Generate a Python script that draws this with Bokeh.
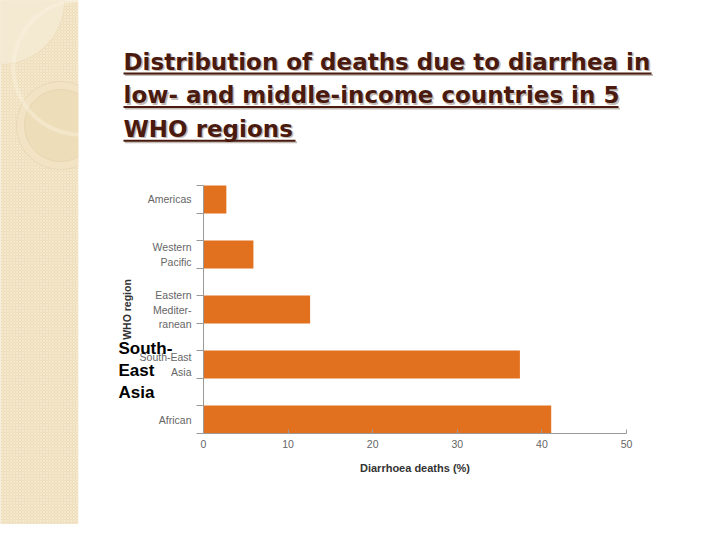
import numpy as np
from bokeh.plotting import figure
from bokeh.models import (Range1d, FixedTicker, Label, BoxAnnotation,
                          PolyAnnotation, ColumnDataSource, LinearAxis)
from bokeh.embed import file_html
from bokeh.resources import INLINE

# ---------------- data ----------------
regions = ["African", "South-East Asia", "Eastern Mediterranean",
           "Western Pacific", "Americas"]
region_tick_labels = ["African", "South-East\nAsia", "Eastern\nMediter-\nranean",
                      "Western\nPacific", "Americas"]
deaths_pct = [41.1, 37.4, 12.6, 5.9, 2.7]
x_ticks = [0, 10, 20, 30, 40, 50]
title_lines = ["Distribution of deaths due to diarrhea in",
               "low- and middle-income countries in 5",
               "WHO regions"]
overlay_lines = ["South-", "East", "Asia"]

# ---------------- layout geometry (page px) ----------------
W, H = 704, 524
CL, CR, CT, CB = 203, 626, 185, 433      # chart plotting area
bar_h = 0.509
half = bar_h / 2
pos = list(range(len(regions)))
x_lo, x_hi = x_ticks[0], x_ticks[-1]
y_lo, y_hi = pos[0] - half, pos[-1] + half
kx = (x_hi - x_lo) / (CR - CL)
ky = (y_hi - y_lo) / (CB - CT)

# frame covers the whole canvas; chart axes are placed at fixed locations
p = figure(width=W, height=H, output_backend="svg", toolbar_location=None,
           title=None, x_axis_location=None, y_axis_location=None,
           x_range=Range1d(x_lo - CL * kx, x_hi + (W - CR) * kx),
           y_range=Range1d(y_lo - (H - CB) * ky, y_hi + CT * ky),
           min_border=0)
p.background_fill_color = "white"
p.border_fill_color = "white"
p.outline_line_color = None
p.xgrid.visible = False
p.ygrid.visible = False

def sx(X):
    return X

def sy(Y):
    return H - Y

SCR = dict(left_units="screen", right_units="screen",
           top_units="screen", bottom_units="screen")

# ---------------- slide decorations ----------------
strip_right = 78
p.add_layout(BoxAnnotation(left=sx(-5), right=sx(strip_right), top=sy(-5), bottom=sy(560),
                           fill_color="#EEDDB9", fill_alpha=1, line_color=None,
                           hatch_pattern="diagonal_cross", hatch_color="#F6EBD3",
                           hatch_scale=3, hatch_weight=1, hatch_alpha=0.8,
                           level="underlay", **SCR))

def circle_poly(cx, cy, r, **kw):
    t = np.linspace(0, 2 * np.pi, 160)
    return PolyAnnotation(xs=[sx(v) for v in cx + r * np.cos(t)],
                          ys=[sy(v) for v in cy + r * np.sin(t)],
                          xs_units="screen", ys_units="screen",
                          level="underlay", **kw)

p.add_layout(circle_poly(0, 0, 64, fill_color="#F4E9D1", fill_alpha=1,
                         line_color="#E2D0A8", line_width=1))
p.add_layout(circle_poly(60, 125, 44, fill_color="#F1E3C4", fill_alpha=1,
                         line_color="#D6C096", line_width=1))
p.add_layout(circle_poly(60, 125, 36, fill_color="#EEDDB9", fill_alpha=1,
                         line_color="#D6C096", line_width=1))
p.add_layout(circle_poly(80, 67, 67, fill_color=None, fill_alpha=0,
                         line_color="#FFFBF0", line_width=4))
p.add_layout(BoxAnnotation(left=sx(strip_right), right=sx(760), top=sy(-20), bottom=sy(560),
                           fill_color="white", fill_alpha=1, line_color=None,
                           level="underlay", **SCR))

# ---------------- bars ----------------
src = ColumnDataSource(dict(pos=pos, pct=deaths_pct, region=regions))
p.hbar(y="pos", left=0, right="pct", height=bar_h, source=src,
       fill_color="#E1701F", line_color=None)

# ---------------- axes ----------------
tick_font = "Liberation Sans"
edges = sorted([q - half for q in pos] + [q + half for q in pos])
yax = LinearAxis(fixed_location=x_lo, bounds=(y_lo, y_hi))
yax.ticker = FixedTicker(ticks=pos, minor_ticks=edges)
yax.major_label_overrides = {q: lbl for q, lbl in zip(pos, region_tick_labels)}
yax.major_tick_out = 0
yax.major_tick_in = 0
yax.minor_tick_out = 7
yax.minor_tick_in = 0
yax.minor_tick_line_color = "#9A9A9A"
yax.axis_line_color = "#9A9A9A"
yax.major_label_standoff = 5
yax.major_label_text_font = tick_font
yax.major_label_text_font_size = "10.5px"
yax.major_label_text_color = "#666666"
yax.axis_label = "WHO region"
yax.axis_label_text_font = tick_font
yax.axis_label_text_font_style = "bold"
yax.axis_label_text_font_size = "10.5px"
yax.axis_label_text_color = "#333333"
yax.axis_label_standoff = 4
p.add_layout(yax, "left")

xax = LinearAxis(fixed_location=y_lo, bounds=(x_lo, x_hi))
xax.ticker = FixedTicker(ticks=x_ticks, minor_ticks=[])
xax.major_tick_in = 4
xax.major_tick_out = 0
xax.major_tick_line_color = "#9A9A9A"
xax.axis_line_color = "#9A9A9A"
xax.major_label_standoff = 6
xax.major_label_text_font = tick_font
xax.major_label_text_font_size = "10.5px"
xax.major_label_text_color = "#666666"
xax.axis_label = "Diarrhoea deaths (%)"
xax.axis_label_text_font = tick_font
xax.axis_label_text_font_style = "bold"
xax.axis_label_text_font_size = "11px"
xax.axis_label_text_color = "#333333"
xax.axis_label_standoff = 11
p.add_layout(xax, "below")

# ---------------- slide title ----------------
title_x = 123
baselines = [69.5, 103.0, 136.7]      # visual baselines (page px)
label_shift = 8.5                     # Label alphabetic-baseline correction
underline_right = [651, 618, 295]
for txt, by, ur in zip(title_lines, baselines, underline_right):
    for d, col in ((1.5, "#C4BCB7"), (0, "#4A1A0F")):
        p.add_layout(BoxAnnotation(left=sx(title_x + d), right=sx(ur + d),
                                   top=sy(by + 2.5 + d), bottom=sy(by + 4.5 + d),
                                   fill_color=col, fill_alpha=1, line_color=None, **SCR))
        p.add_layout(Label(x=sx(title_x + d), y=sy(by - label_shift + d),
                           x_units="screen", y_units="screen",
                           text=txt, text_baseline="alphabetic", text_align="left",
                           text_font="DejaVu Sans", text_font_style="bold",
                           text_font_size="23px", text_color=col))

# ---------------- stray overlaid text ----------------
for txt, by in zip(overlay_lines, [353, 375, 397]):
    p.add_layout(Label(x=sx(118), y=sy(by - 5.5), x_units="screen", y_units="screen",
                       text=txt, text_baseline="alphabetic", text_align="left",
                       text_font="Liberation Sans", text_font_style="bold",
                       text_font_size="17px", text_color="black"))

open("out.html", "w").write(file_html(p, INLINE))
